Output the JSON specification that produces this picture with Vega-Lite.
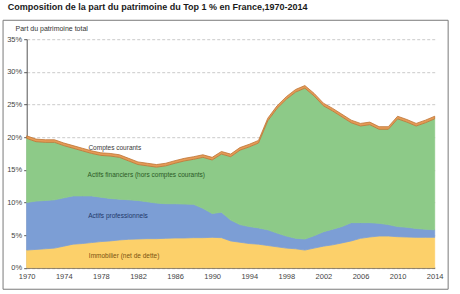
{
  "$schema": "https://vega.github.io/schema/vega-lite/v6.json",
  "autosize": {"type": "none"},
  "width": 408,
  "height": 228.5,
  "padding": {"left": 26.7, "top": 39.2, "right": 25.3, "bottom": 26.3},
  "background": "white",
  "title": {
    "text": "Composition de la part du patrimoine du Top 1 % en France,1970-2014",
    "anchor": "start",
    "frame": "group",
    "dx": -19,
    "offset": 8,
    "font": "Liberation Sans",
    "fontSize": 9,
    "fontWeight": "bold",
    "color": "#1a1a1a"
  },
  "config": {
    "view": {"stroke": null},
    "font": "Liberation Sans",
    "axis": {"labelOverlap": false}
  },
  "resolve": {"axis": {"x": "independent", "y": "independent"}},
  "datasets": {
    "ordre": [
      {"actif": "immobilier", "rang": 1},
      {"actif": "professionnels", "rang": 2},
      {"actif": "financiers", "rang": 3},
      {"actif": "comptes", "rang": 4}
    ]
  },
  "layer": [
    {
      "description": "Part du Top 1 % par type d'actif, empilée",
      "data": {
        "values": [
          {"annee": 1970, "immobilier": 2.7, "professionnels": 7.3, "financiers": 9.8, "comptes": 0.4},
          {"annee": 1971, "immobilier": 2.8, "professionnels": 7.4, "financiers": 9.1, "comptes": 0.4},
          {"annee": 1972, "immobilier": 2.9, "professionnels": 7.4, "financiers": 8.9, "comptes": 0.4},
          {"annee": 1973, "immobilier": 3.0, "professionnels": 7.4, "financiers": 8.8, "comptes": 0.4},
          {"annee": 1974, "immobilier": 3.3, "professionnels": 7.4, "financiers": 8.0, "comptes": 0.4},
          {"annee": 1975, "immobilier": 3.6, "professionnels": 7.4, "financiers": 7.3, "comptes": 0.4},
          {"annee": 1976, "immobilier": 3.7, "professionnels": 7.3, "financiers": 6.9, "comptes": 0.4},
          {"annee": 1977, "immobilier": 3.85, "professionnels": 7.15, "financiers": 6.5, "comptes": 0.4},
          {"annee": 1978, "immobilier": 4.0, "professionnels": 6.8, "financiers": 6.4, "comptes": 0.4},
          {"annee": 1979, "immobilier": 4.1, "professionnels": 6.5, "financiers": 6.5, "comptes": 0.4},
          {"annee": 1980, "immobilier": 4.25, "professionnels": 6.25, "financiers": 6.4, "comptes": 0.4},
          {"annee": 1981, "immobilier": 4.35, "professionnels": 6.05, "financiers": 5.95, "comptes": 0.4},
          {"annee": 1982, "immobilier": 4.4, "professionnels": 5.9, "financiers": 5.5, "comptes": 0.4},
          {"annee": 1983, "immobilier": 4.45, "professionnels": 5.65, "financiers": 5.5, "comptes": 0.4},
          {"annee": 1984, "immobilier": 4.45, "professionnels": 5.45, "financiers": 5.5, "comptes": 0.4},
          {"annee": 1985, "immobilier": 4.5, "professionnels": 5.3, "financiers": 5.8, "comptes": 0.4},
          {"annee": 1986, "immobilier": 4.55, "professionnels": 5.25, "financiers": 6.2, "comptes": 0.4},
          {"annee": 1987, "immobilier": 4.55, "professionnels": 5.2, "financiers": 6.6, "comptes": 0.4},
          {"annee": 1988, "immobilier": 4.6, "professionnels": 5.1, "financiers": 6.9, "comptes": 0.4},
          {"annee": 1989, "immobilier": 4.6, "professionnels": 4.5, "financiers": 7.8, "comptes": 0.4},
          {"annee": 1990, "immobilier": 4.65, "professionnels": 3.65, "financiers": 8.2, "comptes": 0.4},
          {"annee": 1991, "immobilier": 4.6, "professionnels": 3.9, "financiers": 8.9, "comptes": 0.4},
          {"annee": 1992, "immobilier": 4.1, "professionnels": 3.2, "financiers": 9.7, "comptes": 0.4},
          {"annee": 1993, "immobilier": 3.9, "professionnels": 2.7, "financiers": 11.4, "comptes": 0.4},
          {"annee": 1994, "immobilier": 3.7, "professionnels": 2.6, "financiers": 12.2, "comptes": 0.4},
          {"annee": 1995, "immobilier": 3.6, "professionnels": 2.5, "financiers": 13.0, "comptes": 0.4},
          {"annee": 1996, "immobilier": 3.4, "professionnels": 2.4, "financiers": 16.7, "comptes": 0.4},
          {"annee": 1997, "immobilier": 3.2, "professionnels": 2.1, "financiers": 19.1, "comptes": 0.4},
          {"annee": 1998, "immobilier": 3.0, "professionnels": 1.85, "financiers": 20.95, "comptes": 0.4},
          {"annee": 1999, "immobilier": 2.9, "professionnels": 1.6, "financiers": 22.4, "comptes": 0.4},
          {"annee": 2000, "immobilier": 2.7, "professionnels": 1.7, "financiers": 23.1, "comptes": 0.4},
          {"annee": 2001, "immobilier": 3.0, "professionnels": 1.9, "financiers": 21.4, "comptes": 0.4},
          {"annee": 2002, "immobilier": 3.3, "professionnels": 2.2, "financiers": 19.3, "comptes": 0.4},
          {"annee": 2003, "immobilier": 3.5, "professionnels": 2.4, "financiers": 18.1, "comptes": 0.4},
          {"annee": 2004, "immobilier": 3.8, "professionnels": 2.5, "financiers": 16.8, "comptes": 0.4},
          {"annee": 2005, "immobilier": 4.1, "professionnels": 2.8, "financiers": 15.3, "comptes": 0.4},
          {"annee": 2006, "immobilier": 4.5, "professionnels": 2.4, "financiers": 14.8, "comptes": 0.4},
          {"annee": 2007, "immobilier": 4.7, "professionnels": 2.2, "financiers": 15.0, "comptes": 0.4},
          {"annee": 2008, "immobilier": 4.85, "professionnels": 1.95, "financiers": 14.4, "comptes": 0.4},
          {"annee": 2009, "immobilier": 4.85, "professionnels": 1.75, "financiers": 14.6, "comptes": 0.4},
          {"annee": 2010, "immobilier": 4.75, "professionnels": 1.55, "financiers": 16.5, "comptes": 0.4},
          {"annee": 2011, "immobilier": 4.7, "professionnels": 1.5, "financiers": 16.1, "comptes": 0.4},
          {"annee": 2012, "immobilier": 4.65, "professionnels": 1.35, "financiers": 15.7, "comptes": 0.4},
          {"annee": 2013, "immobilier": 4.65, "professionnels": 1.25, "financiers": 16.3, "comptes": 0.4},
          {"annee": 2014, "immobilier": 4.65, "professionnels": 1.15, "financiers": 17.0, "comptes": 0.4}
        ]
      },
      "transform": [
        {"fold": ["immobilier", "professionnels", "financiers", "comptes"], "as": ["actif", "part"]},
        {"lookup": "actif", "from": {"data": {"name": "ordre"}, "key": "actif", "fields": ["rang"]}}
      ],
      "mark": {"type": "area", "strokeWidth": 0.8},
      "encoding": {
        "x": {
          "field": "annee",
          "type": "quantitative",
          "scale": {"domain": [1970, 2014], "nice": false, "zero": false},
          "axis": {
            "title": null,
            "values": [1970, 1974, 1978, 1982, 1986, 1990, 1994, 1998, 2002, 2006, 2010, 2014],
            "tickCount": 40,
            "format": "d",
            "grid": false,
            "ticks": false,
            "labelOverlap": false,
            "domainColor": "#5f5448",
            "domainWidth": 1.2,
            "labelPadding": 5,
            "labelFontSize": 7.5,
            "labelColor": "#444444",
            "labelFlush": false
          }
        },
        "y": {
          "field": "part",
          "type": "quantitative",
          "stack": "zero",
          "scale": {"domain": [0, 35], "nice": false},
          "axis": {
            "title": "Part du patrimoine total",
            "titleAngle": 0,
            "titleAlign": "left",
            "titleBaseline": "middle",
            "titleX": -11.7,
            "titleY": -11.2,
            "titleFontSize": 7,
            "titleFontWeight": "normal",
            "titleColor": "#333333",
            "values": [0, 5, 10, 15, 20, 25, 30, 35],
            "tickCount": 40,
            "labelExpr": "datum.value + '%'",
            "labelOverlap": false,
            "labelFlush": false,
            "labelFontSize": 7.5,
            "labelColor": "#444444",
            "labelPadding": 2,
            "tickSize": 3,
            "tickColor": "#555555",
            "domainColor": "#555555",
            "grid": true,
            "gridDash": [3, 2],
            "gridColor": "#bcbcbc",
            "gridWidth": 0.8
          }
        },
        "order": {"field": "rang", "type": "quantitative", "sort": "ascending"},
        "color": {
          "field": "actif",
          "type": "nominal",
          "scale": {
            "domain": ["immobilier", "professionnels", "financiers", "comptes"],
            "range": ["#FCD06A", "#7C9ED5", "#8DCA88", "#E59B57"]
          },
          "legend": null
        },
        "stroke": {
          "field": "actif",
          "type": "nominal",
          "scale": {
            "domain": ["immobilier", "professionnels", "financiers", "comptes"],
            "range": ["#FCD06A", "#7C9ED5", "#8DCA88", "#BE7434"]
          },
          "legend": null
        }
      }
    },
    {
      "description": "Libellés des séries",
      "data": {
        "values": [
          {"libelle": "Comptes courants", "annee": 1979.5, "part": 18.3},
          {"libelle": "Actifs financiers (hors comptes courants)", "annee": 1982.9, "part": 14.2},
          {"libelle": "Actifs professionnels", "annee": 1979.85, "part": 7.9},
          {"libelle": "Immobilier (net de dette)", "annee": 1980.5, "part": 1.8}
        ]
      },
      "mark": {"type": "text", "fontSize": 6.5, "align": "center", "baseline": "middle"},
      "encoding": {
        "x": {"field": "annee", "type": "quantitative", "axis": null},
        "y": {"field": "part", "type": "quantitative", "axis": null},
        "text": {"field": "libelle"},
        "fill": {
          "field": "libelle",
          "type": "nominal",
          "scale": {
            "domain": ["Comptes courants", "Actifs financiers (hors comptes courants)", "Actifs professionnels", "Immobilier (net de dette)"],
            "range": ["#3a3a3a", "#2c5a26", "#22386a", "#7a5310"]
          },
          "legend": null
        }
      }
    },
    {
      "description": "Cadre autour du graphique",
      "data": {"values": [{}]},
      "mark": {"type": "rect", "fill": "transparent", "stroke": "#7a7a7a", "strokeWidth": 1},
      "encoding": {
        "x": {"datum": 1967.45, "type": "quantitative", "stack": null, "axis": null},
        "x2": {"datum": 2015.45},
        "y": {"datum": 37.9, "type": "quantitative", "stack": null, "axis": null},
        "y2": {"datum": -3.3}
      }
    }
  ]
}
